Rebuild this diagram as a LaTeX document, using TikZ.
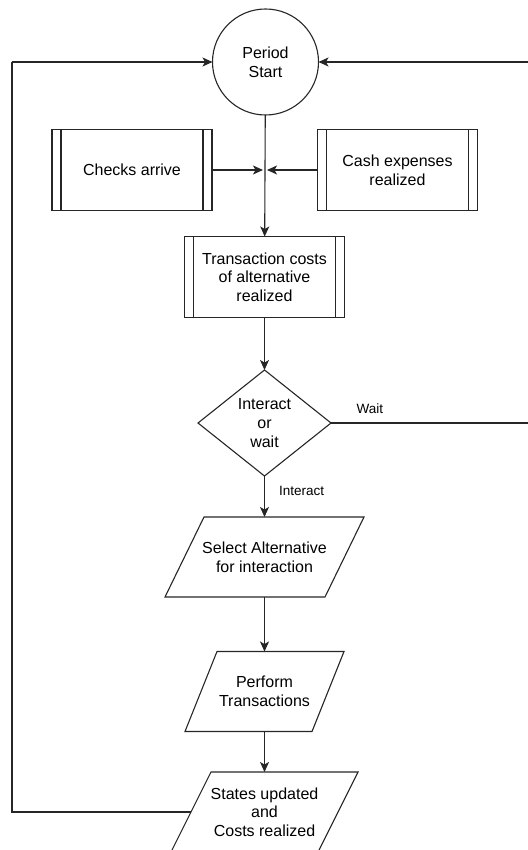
\documentclass[tikz,border=0pt]{standalone}
\usepackage{fontspec}
\setmainfont{Liberation Sans}
\usetikzlibrary{shapes.geometric, arrows.meta, positioning}

\tikzset{
	base/.style={draw=black!85, line width=1.1pt, outer sep=0pt, inner sep=0pt, align=center,
		font=\fontsize{16}{18.7}\selectfont},
	start/.style={base, circle, minimum size=106pt},
	process/.style={base, rectangle, minimum width=160pt, minimum height=81pt,
		path picture={
			\draw [black!85, line width=1.1pt]
				([xshift=9pt]path picture bounding box.north west) -- ([xshift=9pt]path picture bounding box.south west)
				([xshift=-9pt]path picture bounding box.north east) -- ([xshift=-9pt]path picture bounding box.south east);
		}},
	decision/.style={base, diamond, minimum width=133pt, minimum height=106pt},
	io/.style n args={2}{base, draw=none, rectangle, minimum width=#1, minimum height=80pt,
		append after command={\pgfextra{
			\draw [black!85, line width=1.1pt]
				([xshift=#2]\tikzlastnode.north west) -- ([xshift=#2]\tikzlastnode.north east)
				-- ([xshift=-#2]\tikzlastnode.south east) -- ([xshift=-#2]\tikzlastnode.south west) -- cycle;
		}}},
	lbl/.style={inner sep=0pt, font=\fontsize{13.5}{15}\selectfont},
	arr/.style={draw=black!85, line width=1.1pt, -{Stealth[length=10pt, width=9pt, inset=2.5pt]}},
	line/.style={draw=black!85, line width=1.1pt}
}

\begin{document}
\begin{tikzpicture}[x=1pt, y=-1pt]

	\useasboundingbox (0,0) rectangle (527,850);

	%Knoten
	\node [start] (start) at (265.5, 62) {Period\\Start};
	\node [process] (checks) at (132, 170) {Checks arrive};
	\node [process] (cash) at (397.5, 170) {Cash expenses\\realized};
	\node [process] (tcost) at (264.5, 277) {Transaction costs\\of alternative\\realized};
	\node [decision] (choice) at (264.5, 423) {Interact\\or\\wait};
	\node [io={160pt}{19.5pt}] (select) at (264.5, 557) {Select Alternative\\for interaction};
	\node [io={127pt}{16pt}] (perform) at (264.5, 691.5) {Perform\\Transactions};
	\node [io={147pt}{20pt}] (update) at (264.5, 812) {States updated\\and\\Costs realized};

	\coordinate (merge) at (265, 170);
	\coordinate (leftup) at (12, 62);
	\coordinate (leftdown) at (12, 812);
	\coordinate (rightup) at (530, 62);
	\coordinate (rightdown) at (530, 423);

	%Pfeile
	\draw [arr] (start) -- (tcost);
	\draw [arr, shorten >=2pt] (checks) -- (merge);
	\draw [arr, shorten >=2pt] (cash) -- (merge);
	\draw [arr] (tcost) -- (choice);
	\draw [arr] (choice) -- node [lbl, pos=0.37, right=14pt] {Interact} (select);
	\draw [arr] (select) -- (perform);
	\draw [arr] (perform) -- (update);

	%Schleifen
	\draw [line] (choice.east) -- node [lbl, pos=0.195, above=9pt] {Wait} (rightdown) -- (rightup);
	\draw [arr] (rightup) -- (start.east);
	\draw [line] (update.west) -- (leftdown) -- (leftup);
	\draw [arr] (leftup) -- (start.west);

\end{tikzpicture}
\end{document}
